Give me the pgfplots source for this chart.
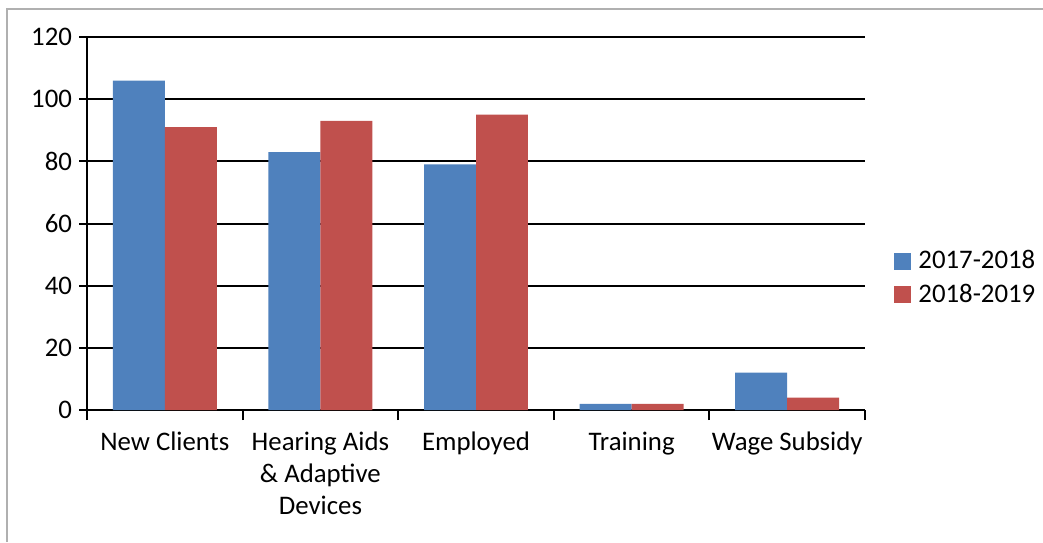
\documentclass[border=0pt]{standalone}
\usepackage{pgfplots}
\pgfplotsset{compat=1.18}
\usepackage{fontspec}
\setmainfont{Carlito}
\definecolor{cblue}{HTML}{4F81BD}
\definecolor{cred}{HTML}{C0504D}
\definecolor{framegray}{RGB}{176,176,176}
\begin{document}
\begin{tikzpicture}[font=\fontsize{13.4}{16}\selectfont]
\useasboundingbox (0,0) rectangle (521.5pt,271pt);
\draw[framegray, line width=1.3pt] (3.5pt,0) -- (3.5pt,266.5pt) -- (521.5pt,266.5pt);
\begin{axis}[
  at={(43.5pt,66pt)}, anchor=south west,
  scale only axis, width=389pt, height=186.5pt,
  xmin=-0.5, xmax=4.5, ymin=0, ymax=120,
  ytick={0,20,...,120},
  xtick={0,...,4},
  xticklabels={New Clients, {Hearing Aids\\\& Adaptive\\Devices}, Employed, Training, Wage Subsidy},
  xticklabel style={align=center, font=\fontsize{13.4}{16}\selectfont, yshift=-3.5pt},
  yticklabel style={font=\fontsize{13.4}{16}\selectfont},
  /pgf/number format/assume math mode=true,
  minor xtick={-0.5,0.5,...,4.5},
  major x tick style={draw=none},
  axis lines=left,
  axis line style={-, black, line width=1pt},
  tick align=outside,
  major tick length=4pt, minor tick length=5pt,
  tick style={black, line width=1pt},
  ymajorgrids, major grid style={black, line width=1pt},
  legend style={at={(1,0.354)}, anchor=west, xshift=11.5pt, draw=none, fill=none,
    font=\fontsize{13.4}{16}\selectfont, row sep=2pt,
    /tikz/every odd column/.append style={column sep=1.5pt}},
  legend cell align=left,
]
\addplot[ybar, bar width=0.334, bar shift=-0.167, fill=cblue, draw=none,
  legend image code/.code={\fill[cblue] (0pt,-4.25pt) rectangle (8.5pt,4.25pt);}]
  coordinates {(0,106) (1,83) (2,79) (3,2) (4,12)};
\addplot[ybar, bar width=0.334, bar shift=0.167, fill=cred, draw=none,
  legend image code/.code={\fill[cred] (0pt,-4.25pt) rectangle (8.5pt,4.25pt);}]
  coordinates {(0,91) (1,93) (2,95) (3,2) (4,4)};
\legend{2017-2018, 2018-2019}
\end{axis}
\end{tikzpicture}
\end{document}
